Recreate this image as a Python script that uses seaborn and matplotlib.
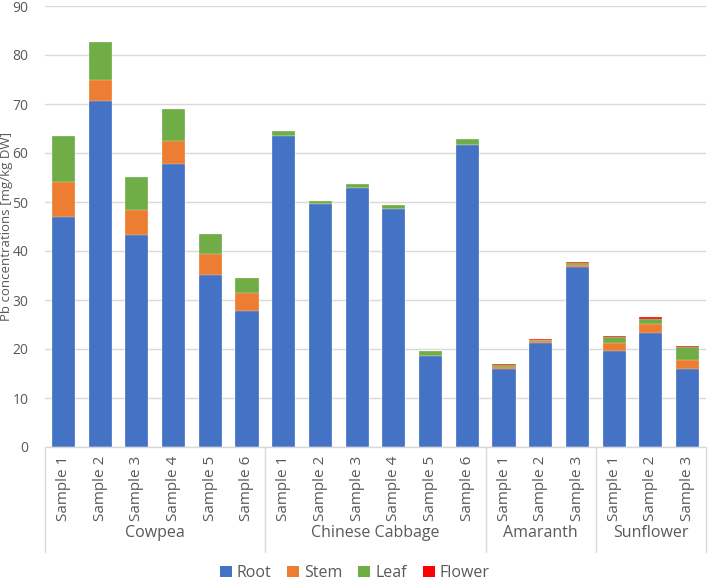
import matplotlib
matplotlib.use("Agg")
import matplotlib.pyplot as plt
import matplotlib.transforms as mtransforms
from matplotlib.patches import Patch
import seaborn as sns
import pandas as pd
import numpy as np

groups = ["Cowpea", "Chinese Cabbage", "Amaranth", "Sunflower"]
group_sizes = [6, 6, 3, 3]
root = [47.0, 70.7, 43.3, 57.7, 35.2, 27.7,
        63.5, 49.5, 52.8, 48.6, 18.6, 61.6,
        16.0, 21.3, 36.8,
        19.6, 23.2, 15.9]
stem = [7.1, 4.3, 5.0, 4.8, 4.1, 3.7,
        0.0, 0.0, 0.0, 0.0, 0.0, 0.0,
        0.3, 0.3, 0.3,
        1.6, 1.9, 1.9]
leaf = [9.3, 7.6, 6.8, 6.5, 4.1, 3.0,
        0.9, 0.7, 0.9, 0.7, 0.9, 1.3,
        0.4, 0.3, 0.5,
        1.2, 1.0, 2.6]
flower = [0.0, 0.0, 0.0, 0.0, 0.0, 0.0,
          0.0, 0.0, 0.0, 0.0, 0.0, 0.0,
          0.2, 0.2, 0.2,
          0.3, 0.4, 0.3]

parts = ["Root", "Stem", "Leaf", "Flower"]
colors = {"Root": "#4472C4", "Stem": "#ED7D31", "Leaf": "#70AD47", "Flower": "#FF0000"}

samples = []
keys = []
for g, n in zip(groups, group_sizes):
    for i in range(n):
        samples.append(f"Sample {i+1}")
        keys.append(f"{g}|Sample {i+1}")

df = pd.DataFrame({"key": keys, "sample": samples,
                   "Root": root, "Stem": stem, "Leaf": leaf, "Flower": flower})
df["c_Root"] = df["Root"]
df["c_Stem"] = df["c_Root"] + df["Stem"]
df["c_Leaf"] = df["c_Stem"] + df["Leaf"]
df["c_Flower"] = df["c_Leaf"] + df["Flower"]

sns.set_style("white")
plt.rcParams["font.family"] = ["Open Sans", "DejaVu Sans"]

fig = plt.figure(figsize=(7.09, 5.80), dpi=100)
ax = fig.add_axes([45/709, 1-447/580, (706-45)/709, 441/580])

for p in reversed(parts):
    sns.barplot(data=df, x="key", y=f"c_{p}", order=keys, color=colors[p],
                width=0.63, edgecolor="#FFFFFF", linewidth=0.2, ax=ax,
                saturation=1, errorbar=None)

ax.set_ylim(0, 90)
ax.set_xlim(-0.5, len(keys) - 0.5)
ax.set_yticks(range(0, 91, 10))
ax.yaxis.grid(True, color="#D9D9D9", linewidth=1)
ax.set_axisbelow(True)
for s in ["left", "right", "top"]:
    ax.spines[s].set_visible(False)
ax.spines["bottom"].set_color("#D9D9D9")
ax.spines["bottom"].set_linewidth(1)
ax.tick_params(axis="both", length=0, colors="#595959", labelsize=10)
ax.tick_params(axis="y", pad=12)
ax.set_xticks(range(len(keys)))
ax.set_xticklabels(samples, rotation=90, color="#595959", fontsize=11)
ax.tick_params(axis="x", pad=6)
ax.set_xlabel("")
ax.set_ylabel("Pb concentrations [mg/kg DW]", color="#595959", fontsize=9.5)
ax.yaxis.set_label_coords((13 - 45) / 661, 0.5)

trans = mtransforms.blended_transform_factory(ax.transData, ax.transAxes)
bounds = np.concatenate([[0], np.cumsum(group_sizes)]) - 0.5
depth = -(552 - 447) / 441
for b in bounds:
    ax.plot([b, b], [0, depth], transform=trans, color="#D9D9D9", lw=1, clip_on=False)
for g, lo, hi in zip(groups, bounds[:-1], bounds[1:]):
    ax.text((lo + hi) / 2, -(533 - 447) / 441, g, transform=trans, ha="center", va="center",
            fontsize=11.5, color="#595959")

handles = [Patch(facecolor=colors[p], edgecolor="none", label=p) for p in parts]
leg = fig.legend(handles=handles, loc="center", bbox_to_anchor=(0.5, 1 - 573/580), ncol=4,
                 frameon=False, handlelength=0.75, handleheight=0.75, handletextpad=0.3,
                 columnspacing=1.0, fontsize=11.5)
for t in leg.get_texts():
    t.set_color("#595959")

fig.savefig("out.png", dpi=100, facecolor="white")
